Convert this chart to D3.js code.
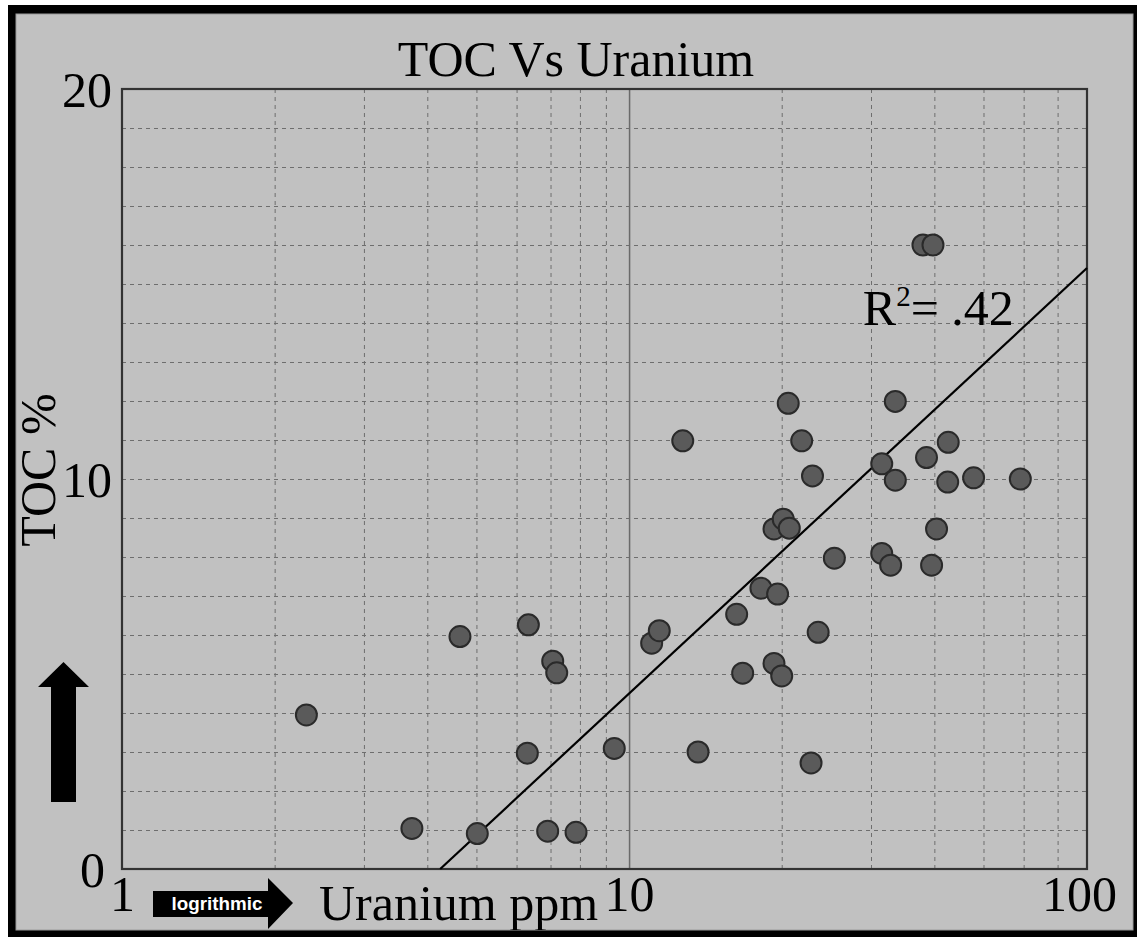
<!DOCTYPE html>
<html>
<head>
<meta charset="utf-8">
<script src="https://cdn.jsdelivr.net/npm/d3@7"></script>
<style>
  html, body { margin: 0; padding: 0; background: #ffffff; }
  svg { display: block; }
</style>
</head>
<body>
<svg id="chart" width="1137" height="937"></svg>
<script>
// Uranium (ppm) and TOC (%) for each sample
const uranium = [
  2.31, 3.73, 4.64, 5.02, 6.33, 6.30, 7.07, 7.20, 6.91, 7.86,
  9.35, 11.08, 11.47, 12.76, 13.68, 16.30, 16.75, 18.20, 19.31, 19.63,
  19.31, 20.14, 20.70, 20.0, 20.6, 21.9, 23.0, 22.85, 23.6, 25.4,
  31.5, 31.5, 32.8, 33.5, 33.5, 37.98, 39.75, 38.6, 39.5, 40.4,
  42.6, 42.5, 47.8, 59.1
];
const toc = [
  3.95, 1.04, 5.96, 0.91, 6.26, 2.97, 5.33, 5.03, 0.97, 0.94,
  3.09, 5.79, 6.11, 10.98, 3.00, 6.53, 5.02, 7.20, 5.27, 7.05,
  8.72, 8.97, 8.74, 4.95, 11.94, 10.98, 10.08, 2.72, 6.07, 7.97,
  10.39, 8.09, 7.79, 11.99, 9.97, 16.0, 16.0, 10.55, 7.79, 8.72,
  10.94, 9.92, 10.03, 10.0
];

// Axis ranges, ticks and grid
const xDomain = [1, 80];
const yDomain = [0, 20];
const xTickValues = [1, 10, 80];
const xTickLabels = ["1", "10", "100"];
const yTickValues = [0, 10, 20];
const yTickLabels = ["0", "10", "20"];
const xGridValues = [2, 3, 4, 5, 6, 7, 8, 9, 20, 30, 40, 50, 60, 70];
const xMajorLines = [10];
const yGridValues = [1, 2, 3, 4, 5, 6, 7, 8, 9, 10, 11, 12, 13, 14, 15, 16, 17, 18, 19];

// Least-squares fit: TOC = a + b * log10(U)
const fitIntercept = -7.58;
const fitSlope = 12.08;
const rSquared = ".42";
const rLabelAt = [28.9, 13.95];

// Text
const titleText = "TOC Vs Uranium";
const xLabelText = "Uranium ppm";
const yLabelText = "TOC %";
const scaleNoteText = "logrithmic";

const W = 1137, H = 937;
const plot = { left: 122, right: 1087, top: 89, bottom: 869 };
const serif = "'Liberation Serif', 'Times New Roman', serif";

const svg = d3.select("#chart");

// Frame
svg.append("rect").attr("x", 8).attr("y", 5).attr("width", W - 8).attr("height", H - 5).attr("fill", "#000");
svg.append("rect").attr("x", 16).attr("y", 14).attr("width", 1117).attr("height", 916)
  .attr("fill", "#c1c1c1").attr("stroke", "#9a9a9a").attr("stroke-width", 1);

// Everything inside the frame is clipped to the gray panel
svg.append("defs").append("clipPath").attr("id", "panel")
  .append("rect").attr("x", 16).attr("y", 14).attr("width", 1117).attr("height", 916);
const g = svg.append("g").attr("clip-path", "url(#panel)");

const x = d3.scaleLog().domain(xDomain).range([plot.left, plot.right]);
const y = d3.scaleLinear().domain(yDomain).range([plot.bottom, plot.top]);

const pw = plot.right - plot.left, ph = plot.bottom - plot.top;

// Dashed grid
const gridX = g.append("g").attr("transform", `translate(0,${plot.bottom})`)
  .call(d3.axisBottom(x).tickValues(xGridValues).tickSize(-ph).tickFormat(""));
gridX.select(".domain").remove();
gridX.selectAll("line").attr("stroke", "#6e6e6e").attr("stroke-width", 1).attr("stroke-dasharray", "4,4");

const gridY = g.append("g").attr("transform", `translate(${plot.left},0)`)
  .call(d3.axisLeft(y).tickValues(yGridValues).tickSize(-pw).tickFormat(""));
gridY.select(".domain").remove();
gridY.selectAll("line").attr("stroke", "#6e6e6e").attr("stroke-width", 1).attr("stroke-dasharray", "4,4");

// Solid decade line
const major = g.append("g").attr("transform", `translate(0,${plot.bottom})`)
  .call(d3.axisBottom(x).tickValues(xMajorLines).tickSize(-ph).tickFormat(""));
major.select(".domain").remove();
major.selectAll("line").attr("stroke", "#6a6a6a").attr("stroke-width", 1.5);

// Plot border
g.append("rect").attr("x", plot.left).attr("y", plot.top).attr("width", pw).attr("height", ph)
  .attr("fill", "none").attr("stroke", "#333").attr("stroke-width", 2.2);

// Tick labels
const xAxis = g.append("g").attr("transform", `translate(0,${plot.bottom})`)
  .call(d3.axisBottom(x).tickValues(xTickValues).tickSize(0).tickPadding(0)
    .tickFormat((d, i) => xTickLabels[i]));
xAxis.select(".domain").remove();
xAxis.selectAll("text")
  .attr("font-family", serif).attr("font-size", 50).attr("fill", "#000")
  .attr("dy", null).attr("y", 42)
  .attr("dx", (d, i) => i === xTickValues.length - 1 ? -8 : 0);

const yAxis = g.append("g").attr("transform", `translate(${plot.left},0)`)
  .call(d3.axisLeft(y).tickValues(yTickValues).tickSize(0).tickPadding(10)
    .tickFormat((d, i) => yTickLabels[i]));
yAxis.select(".domain").remove();
yAxis.selectAll("text")
  .attr("font-family", serif).attr("font-size", 50).attr("fill", "#000")
  .attr("dy", "0.34em")
  .attr("dx", (d, i) => i === 0 ? -7 : 0);

// Regression line
const xAtZero = Math.pow(10, -fitIntercept / fitSlope);
const fitLine = d3.line()
  .x(d => x(d))
  .y(d => y(fitIntercept + fitSlope * Math.log10(d)));
g.append("path").datum([xAtZero, xDomain[1]])
  .attr("d", fitLine).attr("fill", "none").attr("stroke", "#000").attr("stroke-width", 2.2);

// Samples
g.append("g").selectAll("circle")
  .data(uranium.map((u, i) => [u, toc[i]]))
  .join("circle")
  .attr("cx", d => x(d[0])).attr("cy", d => y(d[1])).attr("r", 10.5)
  .attr("fill", "#5a5a5a").attr("stroke", "#2a2a2a").attr("stroke-width", 2);

// R² annotation
const rText = g.append("text")
  .attr("x", x(rLabelAt[0])).attr("y", y(rLabelAt[1]))
  .attr("font-family", serif).attr("font-size", 50).attr("fill", "#000");
rText.append("tspan").text("R");
rText.append("tspan").attr("font-size", 29).attr("dy", -19).text("2");
rText.append("tspan").attr("dy", 19).text("= " + rSquared);

// Title
g.append("text").attr("x", 576).attr("y", 76).attr("text-anchor", "middle")
  .attr("font-family", serif).attr("font-size", 50).attr("fill", "#000").text(titleText);

// Axis titles
g.append("text").attr("x", 319).attr("y", 920)
  .attr("font-family", serif).attr("font-size", 50).attr("fill", "#000").text(xLabelText);

g.append("text").attr("transform", "translate(55,470) rotate(-90)").attr("text-anchor", "middle")
  .attr("font-family", serif).attr("font-size", 50).attr("fill", "#000").text(yLabelText);

// Direction arrows
g.append("path")
  .attr("d", "M153,891 L268,891 L268,878 L293,903 L268,929 L268,917 L153,917 Z")
  .attr("fill", "#000");
g.append("text").attr("x", 217).attr("y", 909.5).attr("text-anchor", "middle")
  .attr("font-family", "'Liberation Sans', Arial, sans-serif").attr("font-weight", "bold")
  .attr("font-size", 18.8).attr("fill", "#fff").text(scaleNoteText);

g.append("path")
  .attr("d", "M51,802 L51,687 L38,687 L63.5,662 L89,687 L76,687 L76,802 Z")
  .attr("fill", "#000");
</script>
</body>
</html>
